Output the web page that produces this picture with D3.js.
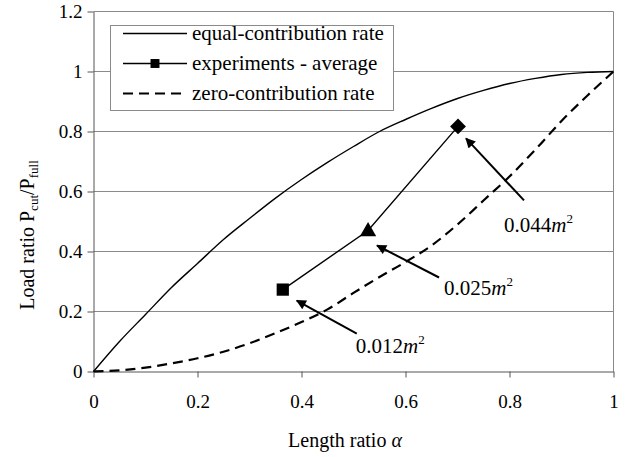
<!DOCTYPE html>
<html>
<head>
<meta charset="utf-8">
<script src="https://cdn.jsdelivr.net/npm/d3@7"></script>
<style>
  html, body { margin: 0; padding: 0; background: #fff; }
  svg { display: block; }
</style>
</head>
<body>
<svg id="chart" width="627" height="457"></svg>
<script>
// Length ratio α values shared by the two theoretical curves
const alpha = [0, 0.05, 0.1, 0.15, 0.2, 0.25, 0.3, 0.35, 0.4, 0.45, 0.5,
               0.55, 0.6, 0.65, 0.7, 0.75, 0.8, 0.85, 0.9, 0.95, 1];
// Equal-contribution rate curve
const equalRate = [0, 0.10, 0.19, 0.28, 0.36, 0.44, 0.51, 0.578, 0.64, 0.697, 0.75,
                   0.80, 0.84, 0.877, 0.91, 0.937, 0.96, 0.977, 0.99, 0.997, 1];
// Zero-contribution rate curve
const zeroRate = [0, 0.004, 0.013, 0.027, 0.044, 0.066, 0.094, 0.128, 0.165, 0.207, 0.262,
                  0.315, 0.365, 0.42, 0.49, 0.57, 0.65, 0.74, 0.835, 0.92, 1];
// Experimental averages for each cut area
const expAlpha = [0.364, 0.528, 0.701];
const expLoad  = [0.273, 0.47, 0.817];
const expArea  = ["0.012", "0.025", "0.044"];
const expShape = ["square", "triangle", "diamond"];

// Axis ticks
const xTicks = [0, 0.2, 0.4, 0.6, 0.8, 1];
const xTickLabels = ["0", "0.2", "0.4", "0.6", "0.8", "1"];
const yTicks = [0, 0.2, 0.4, 0.6, 0.8, 1, 1.2];
const yTickLabels = ["0", "0.2", "0.4", "0.6", "0.8", "1", "1.2"];

const legendLabels = ["equal-contribution rate", "experiments - average", "zero-contribution rate"];

const FONT = '"Liberation Serif", "Times New Roman", serif';
const svg = d3.select("#chart");
const x = d3.scaleLinear().domain([0, 1]).range([93.5, 613.5]);
const y = d3.scaleLinear().domain([0, 1.2]).range([371.5, 11.5]);

// Horizontal gridlines and plot frame
svg.append("g").selectAll("line").data(yTicks.slice(1)).join("line")
  .attr("x1", x(0)).attr("x2", x(1))
  .attr("y1", d => y(d)).attr("y2", d => y(d))
  .attr("stroke", "#8a8a8a").attr("stroke-width", 1);
svg.append("line")
  .attr("x1", x(1)).attr("x2", x(1)).attr("y1", y(0)).attr("y2", y(1.2))
  .attr("stroke", "#8a8a8a");

// Axes
const xAxis = d3.axisBottom(x).tickValues(xTicks)
  .tickFormat((d, i) => xTickLabels[i]).tickSize(6).tickSizeOuter(0).tickPadding(17);
const yAxis = d3.axisLeft(y).tickValues(yTicks)
  .tickFormat((d, i) => yTickLabels[i]).tickSize(6).tickSizeOuter(0).tickPadding(5);

const gx = svg.append("g").attr("transform", `translate(0,${y(0)})`).call(xAxis);
const gy = svg.append("g").attr("transform", `translate(${x(0)},0)`).call(yAxis);
[gx, gy].forEach(g => {
  g.attr("font-family", null).attr("font-size", null);
  g.select(".domain").attr("stroke", "#555");
  g.selectAll(".tick line").attr("stroke", "#555");
  g.selectAll(".tick text").style("font-size", "19px")
    .style("font-family", FONT).attr("fill", "#000");
});

// Curves
const curve = d3.line().x(d => x(d[0])).y(d => y(d[1])).curve(d3.curveMonotoneX);
const line = d3.line().x(d => x(d[0])).y(d => y(d[1]));
svg.append("path")
  .attr("d", curve(alpha.map((a, i) => [a, equalRate[i]])))
  .attr("fill", "none").attr("stroke", "#000").attr("stroke-width", 1.4);
svg.append("path")
  .attr("d", curve(alpha.map((a, i) => [a, zeroRate[i]])))
  .attr("fill", "none").attr("stroke", "#000").attr("stroke-width", 2.2)
  .attr("stroke-dasharray", "10,6");

// Experimental averages
const expPts = expAlpha.map((a, i) => [a, expLoad[i]]);
svg.append("path").attr("d", line(expPts))
  .attr("fill", "none").attr("stroke", "#000").attr("stroke-width", 1.4);

const symbols = { square: d3.symbolSquare, triangle: d3.symbolTriangle, diamond: d3.symbolDiamond2 };
const symSize = { square: 150, triangle: 115, diamond: 160 };
svg.append("g").selectAll("path").data(expPts).join("path")
  .attr("transform", (d, i) => `translate(${x(d[0])},${y(d[1]) + (expShape[i] === "triangle" ? 1 : 0)})`)
  .attr("d", (d, i) => d3.symbol(symbols[expShape[i]], symSize[expShape[i]])())
  .attr("fill", "#000");

// Arrow annotations pointing at each experimental point
svg.append("defs").append("marker")
  .attr("id", "arrowHead").attr("viewBox", "0 0 10 10")
  .attr("refX", 9).attr("refY", 5)
  .attr("markerWidth", 13).attr("markerHeight", 10)
  .attr("markerUnits", "userSpaceOnUse").attr("orient", "auto")
  .append("path").attr("d", "M0,0 L10,5 L0,10 Z").attr("fill", "#000");
// arrow tail offsets (px) and head offsets from each point
const tailOffset = [[74, 44], [71, 47], [66, 74]];
const headOffset = [[14, 11], [9, 15], [8, 12]];
const labelOffset = [[73, 63], [76, 64], [46, 106]];

const ann = svg.append("g");
expPts.forEach((p, i) => {
  const px = x(p[0]), py = y(p[1]);
  ann.append("line")
    .attr("x1", px + tailOffset[i][0]).attr("y1", py + tailOffset[i][1])
    .attr("x2", px + headOffset[i][0]).attr("y2", py + headOffset[i][1])
    .attr("stroke", "#000").attr("stroke-width", 2)
    .attr("marker-end", "url(#arrowHead)");
  const t = ann.append("text")
    .attr("x", px + labelOffset[i][0]).attr("y", py + labelOffset[i][1])
    .style("font-family", FONT).style("font-size", "21px").attr("fill", "#000");
  t.append("tspan").text(expArea[i]);
  t.append("tspan").style("font-style", "italic").text("m");
  t.append("tspan").style("font-size", "13px").attr("dy", -9).text("2");
});

// Legend
const lg = svg.append("g");
lg.append("rect").attr("x", 110.5).attr("y", 25.5).attr("width", 283).attr("height", 85)
  .attr("fill", "#fff").attr("stroke", "#8a8a8a");
const rowY = [33, 63, 93];
legendLabels.forEach((lab, i) => {
  const l = lg.append("line").attr("x1", 123).attr("x2", 187)
    .attr("y1", rowY[i] + 0.5).attr("y2", rowY[i] + 0.5).attr("stroke", "#000");
  if (i === 2) l.attr("stroke-width", 2.2).attr("stroke-dasharray", "10,6");
  else l.attr("stroke-width", 1.4);
  if (i === 1) {
    lg.append("path").attr("transform", `translate(155,${rowY[i] + 0.5})`)
      .attr("d", d3.symbol(d3.symbolSquare, 80)()).attr("fill", "#000");
  }
  lg.append("text").attr("x", 192).attr("y", rowY[i] + 7)
    .style("font-family", FONT).style("font-size", "21px").attr("fill", "#000").text(lab);
});

// Axis titles
const xt = svg.append("text").attr("x", 345).attr("y", 447)
  .attr("text-anchor", "middle")
  .style("font-family", FONT).style("font-size", "20px").attr("fill", "#000");
xt.append("tspan").text("Length ratio ");
xt.append("tspan").style("font-style", "italic").text("α");

const yt = svg.append("text")
  .attr("transform", "translate(34,235) rotate(-90)")
  .attr("text-anchor", "middle")
  .style("font-family", FONT).style("font-size", "20px").attr("fill", "#000");
yt.append("tspan").text("Load ratio P");
yt.append("tspan").style("font-size", "13px").attr("dy", 4).text("cut");
yt.append("tspan").attr("dy", -4).text("/P");
yt.append("tspan").style("font-size", "13px").attr("dy", 4).text("full");
</script>
</body>
</html>
